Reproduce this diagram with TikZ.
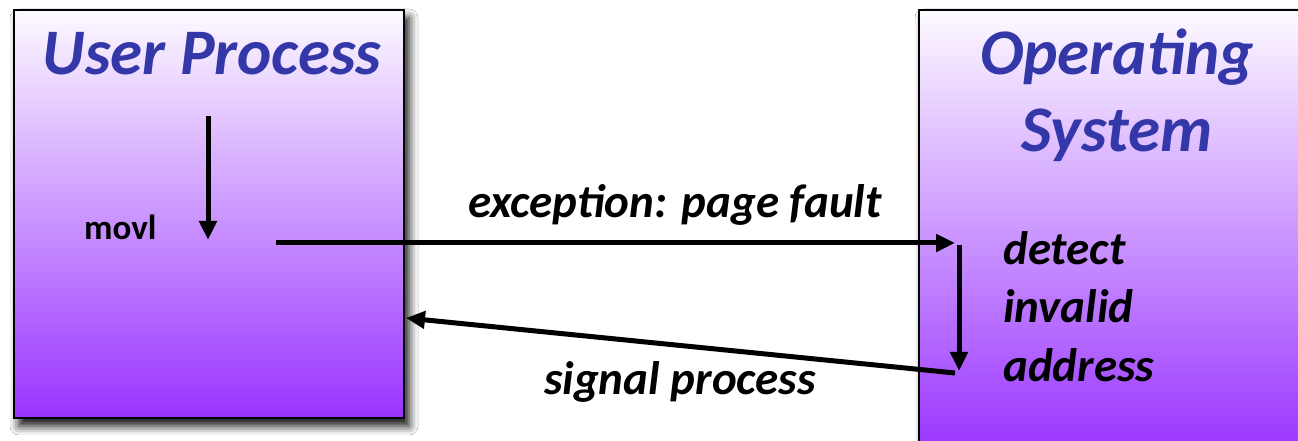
\documentclass[tikz,border=0pt]{standalone}
\usepackage{fontspec}
\setmainfont{Carlito}
\usetikzlibrary{arrows.meta,shadows.blur}
\definecolor{titleblue}{HTML}{3337A8}
\definecolor{boxtop}{HTML}{FDFAFF}
\definecolor{boxmid}{HTML}{D6B2FA}
\definecolor{boxbot}{HTML}{9933FF}

\begin{document}
\begin{tikzpicture}[x=1pt,y=1pt,
    procbox/.style={draw=black, line width=2.5pt, inner sep=0pt,
      top color=boxtop, middle color=boxmid, bottom color=boxbot,
      blur shadow={shadow xshift=5pt, shadow yshift=-8pt, shadow blur radius=9pt, shadow opacity=95}},
    boxtitle/.style={font=\fontsize{65}{70}\selectfont\bfseries\itshape, text=titleblue, anchor=base, inner sep=0pt},
    steplbl/.style={font=\fontsize{47}{52}\selectfont\bfseries\itshape, inner sep=0pt},
    flow/.style={line width=5pt, -{Triangle[length=19pt,width=17pt]}}]
    \useasboundingbox (0,0) rectangle (1298,441);
    \fill[white] (0,0) rectangle (1298,441);

    % the two sides
    \node[procbox, minimum width=390pt, minimum height=408pt] (user) at (209,227) {};
    \node[procbox, minimum width=401pt, minimum height=446pt] (os) at (1119.5,208) {};

    \node[boxtitle] (usertitle) at (212,366) {User Process};
    \node[boxtitle] (ostitle)   at (1117,366) {Operating};
    \node[boxtitle] (ostitleb)  at (1117,289) {System};

    \node[font=\fontsize{35}{40}\selectfont\bfseries, anchor=base west, inner sep=0pt] (movl) at (84,201) {movl};

    \node[steplbl, anchor=base west] (detect)  at (1003,176) {detect};
    \node[steplbl, anchor=base west] (invalid) at (1003,118) {invalid};
    \node[steplbl, anchor=base west] (address) at (1003,59)  {address};

    \node[steplbl, anchor=base] (fault)  at (675,223) {exception: page fault};
    \node[steplbl, anchor=base] (signal) at (680,46)  {signal process};

    % control flow
    \coordinate (pcstart) at (208,325);
    \coordinate (pcend)   at (208,201);
    \coordinate (trapout) at (276,198);
    \coordinate (trapin)  at (955,198);
    \coordinate (hstart)  at (959,196);
    \coordinate (hend)    at (959,70);
    \coordinate (sigout)  at (955,68);
    \coordinate (sigin)   at (406,123);

    \draw[flow] (pcstart) -- (pcend);
    \draw[flow] (trapout) -- (trapin);
    \draw[flow] (hstart) -- (hend);
    \draw[flow] (sigout) -- (sigin);
\end{tikzpicture}
\end{document}
